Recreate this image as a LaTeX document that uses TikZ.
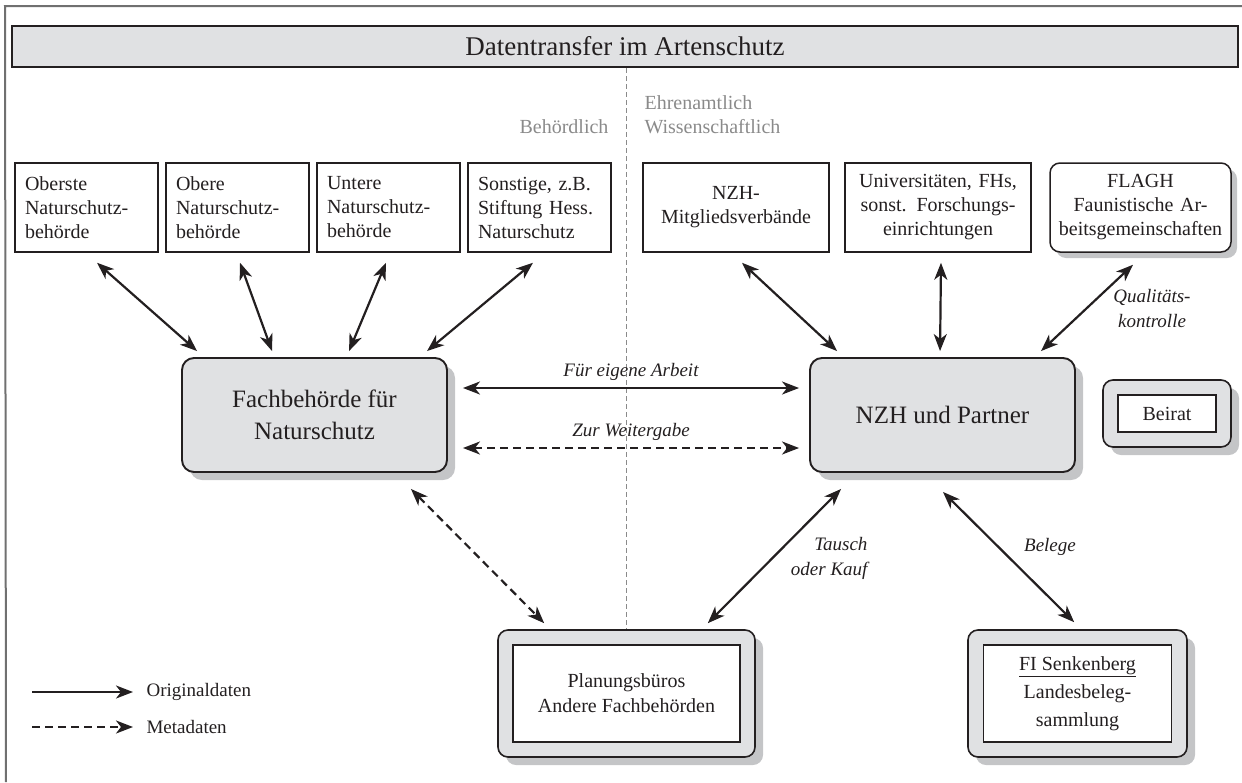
\documentclass[tikz,border=0pt]{standalone}
\usepackage{fontspec}
\setmainfont{Liberation Serif}
\usetikzlibrary{arrows.meta,calc,shadows}
\definecolor{ink}{HTML}{231F20}
\definecolor{boxgray}{HTML}{E0E1E3}
\definecolor{shadowgray}{HTML}{C4C5C7}
\definecolor{labelgray}{HTML}{8A8A8A}
\definecolor{framegray}{HTML}{707070}
\tikzset{
  tip/.tip={Stealth[length=17pt,width=13pt,inset=5pt]},
  myshadow/.style={drop shadow={shadow xshift=8pt,shadow yshift=-8pt,fill=shadowgray,opacity=1}},
  smallshadow/.style={drop shadow={shadow xshift=6pt,shadow yshift=-6pt,fill=shadowgray,opacity=1}},
  titlebar/.style={draw=ink,line width=2.2pt,fill=boxgray,minimum width=1226pt,minimum height=41pt,inner sep=0pt,font=\fontsize{27}{32}\selectfont,text=ink},
  tbox/.style={draw=ink,line width=1.5pt,fill=white,minimum height=89pt,inner ysep=0pt,font=\fontsize{20}{24}\selectfont,text=ink},
  ltbox/.style={tbox,text width=123pt,inner xsep=10pt,align=left},
  rtbox/.style={tbox,inner xsep=0pt,align=center},
  mainbox/.style={draw=ink,line width=1.9pt,fill=boxgray,rounded corners=12pt,minimum width=265pt,minimum height=114pt,inner sep=0pt,font=\fontsize{25}{32}\selectfont,align=center,text=ink,myshadow},
  outerbox/.style={draw=ink,line width=1.6pt,fill=boxgray,rounded corners=10pt,inner sep=0pt,myshadow},
  innerbox/.style={draw=ink,line width=1.4pt,fill=white,inner sep=0pt,align=center,font=\fontsize{20}{25}\selectfont,text=ink},
  arr/.style={draw=ink,line width=2.2pt,tip-tip},
  metaarr/.style={arr,dash pattern=on 8pt off 5pt},
  legarr/.style={draw=ink,line width=2.2pt,-tip},
  legmeta/.style={legarr,dash pattern=on 8pt off 5pt},
  edgelab/.style={font=\fontsize{19}{25}\selectfont\itshape,text=ink},
  grplab/.style={font=\fontsize{20}{24}\selectfont,text=labelgray,align=left},
  legtext/.style={font=\fontsize{19}{24}\selectfont,text=ink},
  divider/.style={draw=labelgray,line width=1.2pt,dash pattern=on 5pt off 3pt},
  framel/.style={draw=framegray,line width=2pt}
}
\begin{document}
\begin{tikzpicture}[x=1pt,y=-1pt]
\useasboundingbox (0,0) rectangle (1242,782);
% frame
\coordinate (fa) at (5,6);
\coordinate (fb) at (1242,6);
\coordinate (fc) at (6,782);
\draw[framel] (fb) -- (fa) -- (fc);
% title
\node[titlebar] (title) at (625,46.5) {Datentransfer im Artenschutz};
% group labels
\node[grplab,anchor=east] (beh) at (612,127) {Behördlich};
\node[grplab,anchor=west] (ehr) at (641,115) {Ehrenamtlich\\Wissenschaftlich};
% top left boxes
\node[ltbox] (b1) at (86.5,207.5) {Oberste\\Naturschutz-\\behörde};
\node[ltbox] (b2) at (237.5,207.5) {Obere\\Naturschutz-\\behörde};
\node[ltbox] (b3) at (388.5,207.5) {Untere\\Naturschutz-\\behörde};
\node[ltbox] (b4) at (539.5,207.5) {Sonstige, z.B.\\Stiftung Hess.\\Naturschutz};
% top right boxes
\node[rtbox,text width=186pt] (r1) at (736,207.5) {NZH-\\Mitgliedsverbände};
\node[rtbox,text width=186pt] (r2) at (938,207.5) {Universitäten, FHs,\\sonst. Forschungs-\\einrichtungen};
\node[rtbox,text width=181pt,rounded corners=10pt,smallshadow] (r3) at (1140.5,207.5) {FLAGH\\Faunistische Ar-\\beitsgemeinschaften};
% main boxes
\node[mainbox] (fach) at (314.5,415) {Fachbehörde für\\Naturschutz};
\node[mainbox] (nzh) at (942.5,415) {NZH und Partner};
% Beirat
\node[outerbox,minimum width=128pt,minimum height=67pt] (beiratO) at (1167,413.5) {};
\node[innerbox,minimum width=98pt,minimum height=37pt] (beirat) at (beiratO) {Beirat};
% bottom boxes
\node[outerbox,minimum width=257pt,minimum height=127pt] (planO) at (626.5,693.5) {};
\node[innerbox,minimum width=227pt,minimum height=97pt] (plan) at (planO) {Planungsbüros\\Andere Fachbehörden};
\node[outerbox,minimum width=219pt,minimum height=127pt] (fiO) at (1077.5,693.5) {};
\node[innerbox,minimum width=188pt,minimum height=97pt,font=\fontsize{20}{28}\selectfont] (fi) at (fiO) {\underline{FI Senkenberg}\\Landesbeleg-\\sammlung};
% divider
\draw[divider] (title.south -| planO.north) -- (planO.north);
% arrows top left
\draw[arr] ($(b1.south)+(10.5,10)$) -- ($(fach.north west)+(16,-6)$);
\draw[arr] ($(b2.south)+(2.5,10)$) -- ($(fach.north west)+(91,-6)$);
\draw[arr] ($(b3.south)+(-2.5,10)$) -- ($(fach.north west)+(168,-6)$);
\draw[arr] ($(b4.south)+(-6.5,10)$) -- ($(fach.north west)+(246,-6)$);
% arrows top right
\draw[arr] ($(r1.south)+(6,10)$) -- ($(nzh.north west)+(28,-6)$);
\draw[arr] ($(r2.south)+(3,10)$) -- ($(nzh.north west)+(131,-6)$);
\draw[arr] ($(r3.south)+(-7.5,12)$) -- ($(nzh.north west)+(232,-6)$);
\node[edgelab,align=center] (qk) at (1152,308) {Qualitäts-\\kontrolle};
% horizontal
\draw[arr] ($(fach.east)+(15,-27)$) -- node[edgelab,above=3pt] (fea) {Für eigene Arbeit} ($(nzh.west)+(-10,-27)$);
\draw[metaarr] ($(fach.east)+(15,33)$) -- node[edgelab,above=3pt] (zw) {Zur Weitergabe} ($(nzh.west)+(-10,33)$);
% lower
\draw[metaarr] ($(fach.south east)+(-37,16)$) -- ($(planO.north west)+(47,-6)$);
\draw[arr] ($(nzh.south west)+(32,16)$) -- ($(planO.north east)+(-48,-6)$);
\draw[arr] ($(nzh.south)+(0.5,19)$) -- ($(fiO.north west)+(107,-7)$);
\node[edgelab,align=right,anchor=east] (tk) at (871,558) {Tausch\\oder Kauf};
\node[edgelab] (bel) at (1050,547) {Belege};
% legend
\coordinate (la1) at (32,692);
\coordinate (lb1) at (133,692);
\coordinate (la2) at (32,727);
\coordinate (lb2) at (133,727);
\draw[legarr] (la1) -- (lb1);
\draw[legmeta] (la2) -- (lb2);
\node[legtext,anchor=west] (lo) at (143,692) {Originaldaten};
\node[legtext,anchor=west] (lm) at (143,727) {Metadaten};
\end{tikzpicture}
\end{document}
